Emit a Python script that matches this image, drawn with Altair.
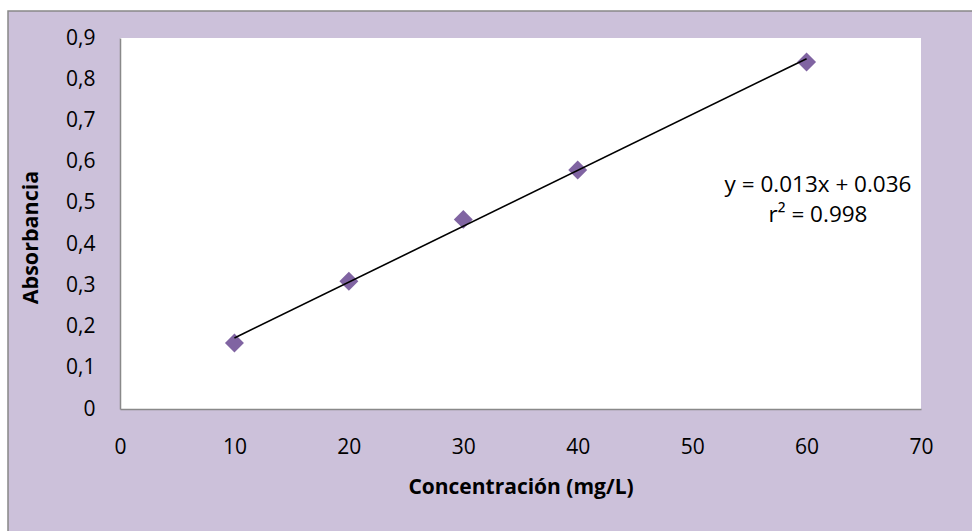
import altair as alt
import pandas as pd

conc = [10, 20, 30, 40, 60]
absorb = [0.16, 0.31, 0.46, 0.58, 0.842]
eq_lines = ["y = 0.013x + 0.036", "r² = 0.998"]
eq_x = [61.0, 61.0]
eq_y = [0.543, 0.470]

df = pd.DataFrame({"x": conc, "y": absorb})
ann = pd.DataFrame({"t": eq_lines, "x": eq_x, "y": eq_y})

W, H = 801, 371
PL, PT, PR, PB = 120, 38, 51, 122
FONT = "Open Sans"
LAV = "#ccc1da"

xs = alt.Scale(domain=[0, 70], nice=False)
ys = alt.Scale(domain=[0, 0.9], nice=False)

frame = alt.Chart(pd.DataFrame({"a": [0]})).mark_rect(
    fill=LAV, stroke="#888888", strokeWidth=1.5
).encode(
    x=alt.value(8 - PL), x2=alt.value(W + PR + 10),
    y=alt.value(11 - PT), y2=alt.value(H + PB + 10)
)
plotbg = alt.Chart(pd.DataFrame({"a": [0]})).mark_rect(fill="white").encode(
    x=alt.value(0), x2=alt.value(W), y=alt.value(0), y2=alt.value(H)
)

xaxis = alt.Axis(
    values=list(range(0, 71, 10)), ticks=False, grid=False, labelFlush=False,
    domainColor="#898989", domainWidth=1.5,
    labelFont=FONT, labelFontSize=21, labelColor="#000000", labelPadding=27,
    title="Concentración (mg/L)", titleFont=FONT, titleFontSize=21,
    titleFontWeight="bold", titleColor="#000000", titlePadding=19, zindex=2,
)
yaxis = alt.Axis(
    values=[0, 0.1, 0.2, 0.3, 0.4, 0.5, 0.6, 0.7, 0.8, 0.9], ticks=False, grid=False,
    labelFlush=False,
    domainColor="#898989", domainWidth=1.5,
    labelExpr="datum.value == 0 ? '0' : replace(format(datum.value, '.1f'), '.', ',')",
    labelFont=FONT, labelFontSize=21, labelColor="#000000", labelPadding=25,
    title="Absorbancia", titleFont=FONT, titleFontSize=21.5,
    titleFontWeight="bold", titleColor="#000000", titlePadding=20, zindex=2,
    titleX=-89, titleY=199, titleBaseline="middle", titleAlign="center", titleAngle=270,
)

base = alt.Chart(df)
line = base.transform_regression("x", "y", method="linear").mark_line(
    color="black", strokeWidth=1.6
).encode(
    x=alt.X("x:Q", scale=xs, axis=xaxis),
    y=alt.Y("y:Q", scale=ys, axis=yaxis),
)
pts = base.mark_point(
    shape="diamond", filled=True, size=360, color="#8064a2", opacity=1
).encode(x=alt.X("x:Q", scale=xs), y=alt.Y("y:Q", scale=ys))

text = alt.Chart(ann).mark_text(
    font=FONT, fontSize=22.5, color="#000000", align="center", baseline="middle"
).encode(x=alt.X("x:Q", scale=xs), y=alt.Y("y:Q", scale=ys), text="t:N")

chart = alt.layer(frame, plotbg, pts, line, text).properties(
    width=W, height=H,
    padding={"left": PL, "top": PT, "right": PR, "bottom": PB},
    autosize=alt.AutoSizeParams(type="none"),
    background="white",
).configure_view(stroke=None, fill=None)

chart.save("out.html", embed_options={"renderer": "svg", "actions": False})
